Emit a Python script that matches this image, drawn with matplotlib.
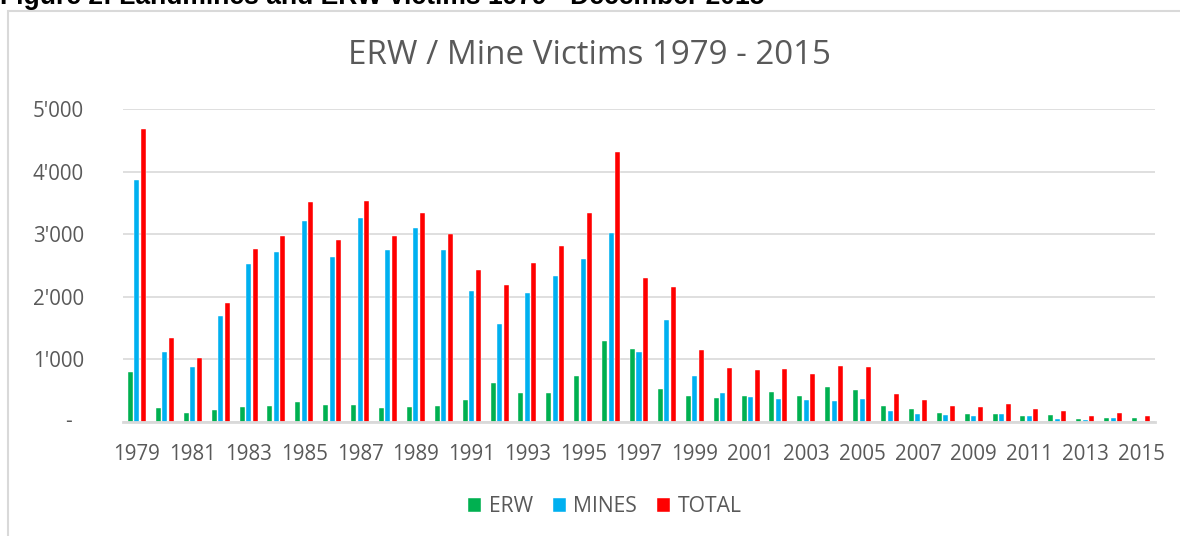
import matplotlib
matplotlib.use("Agg")
import matplotlib.pyplot as plt
from matplotlib.patches import Rectangle
from matplotlib.transforms import blended_transform_factory, offset_copy
import numpy as np

years = list(range(1979, 2016))
erw = [795, 214, 134, 187, 235, 246, 310, 262, 267, 219,
       235, 256, 342, 614, 459, 464, 731, 1291, 1168, 518,
       405, 378, 411, 470, 405, 551, 503, 254, 205, 141,
       119, 130, 92, 108, 49, 65, 65]
mines = [3867, 1115, 880, 1696, 2523, 2715, 3206, 2635, 3259, 2742,
         3099, 2742, 2086, 1568, 2064, 2336, 2603, 3024, 1120, 1627,
         730, 459, 389, 357, 351, 330, 357, 178, 124, 103,
         97, 124, 92, 49, 32, 54, 16]
total = [4678, 1339, 1019, 1894, 2758, 2971, 3520, 2902, 3531, 2971,
         3334, 3003, 2427, 2187, 2534, 2811, 3334, 4320, 2299, 2150,
         1151, 854, 822, 843, 768, 892, 870, 438, 341, 259,
         232, 276, 200, 178, 97, 141, 97]
series_names = ["ERW", "MINES", "TOTAL"]
series_colors = ["#00B050", "#00B0F0", "#FF0000"]
yticks = [0, 1000, 2000, 3000, 4000, 5000]
ytick_labels = ["-", "1'000", "2'000", "3'000", "4'000", "5'000"]

W, H, DPI = 1180, 536, 100
fig = plt.figure(figsize=(W / DPI, H / DPI), dpi=DPI)
fig.patch.set_facecolor("white")

txt = "#595959"
grid = "#D9D9D9"
font = "Open Sans"

# chart frame
fig.patches.append(Rectangle((8 / W, -0.1), 1.2, (H - 11) / H + 0.1, transform=fig.transFigure,
                             fill=False, edgecolor=grid, linewidth=1.5))

fig.text(0, 1 - 4.5 / H, "Figure 2: Landmines and ERW victims 1979 - December 2015",
         family="Liberation Sans", fontweight="bold", fontsize=19.1, color="black",
         ha="left", va="baseline")

ax = fig.add_axes([123 / W, 1 - 421.7 / H, (1155 - 123) / W, (421.7 - 109) / H])
x = np.arange(len(years))
pitch = 0.233
bw = 0.18
for i, (vals, name, col) in enumerate(zip([erw, mines, total], series_names, series_colors)):
    ax.bar(x + (i - 1) * pitch, vals, width=bw, color=col, label=name,
           edgecolor="white", linewidth=0.3, zorder=3)

ax.set_xlim(-0.5, len(years) - 0.5)
ax.set_ylim(0, 5000)
ax.set_yticks(yticks)
ax.set_yticklabels([""] + ytick_labels[1:], family=font)
ax.yaxis.grid(True, color=grid, linewidth=1.2, zorder=0)
ax.set_axisbelow(True)
for s in ["top", "right", "left"]:
    ax.spines[s].set_visible(False)
ax.spines["bottom"].set_color(grid)
ax.spines["bottom"].set_linewidth(2)
ax.spines["bottom"].set_zorder(4)
ax.set_xticks(x[::2])
ax.set_xticklabels([str(y) for y in years[::2]], family=font)
ax.tick_params(axis="both", length=0, labelsize=14.8, labelcolor=txt)
ax.xaxis.set_tick_params(pad=16)
ax.yaxis.set_tick_params(pad=28)

# zero label, accounting-style dash set further left
tr = blended_transform_factory(ax.transAxes, ax.transData)
ax.text(0, 0, ytick_labels[0], transform=offset_copy(tr, fig=fig, x=-51, y=0, units="dots"),
        ha="right", va="center", fontsize=14.8, color=txt, family=font)

fig.text(0.5, 1 - 56 / H, "ERW / Mine Victims 1979 - 2015", ha="center", va="center",
         fontsize=23.9, color=txt, family=font)

leg = fig.legend(loc="center", bbox_to_anchor=(605 / W, 1 - 507 / H), ncol=3, frameon=False,
                 prop={"family": font, "size": 15.2}, handlelength=0.62, handleheight=0.62,
                 handletextpad=0.35, columnspacing=0.95)
for t in leg.get_texts():
    t.set_color(txt)

fig.savefig("out.png", dpi=DPI, facecolor="white")
